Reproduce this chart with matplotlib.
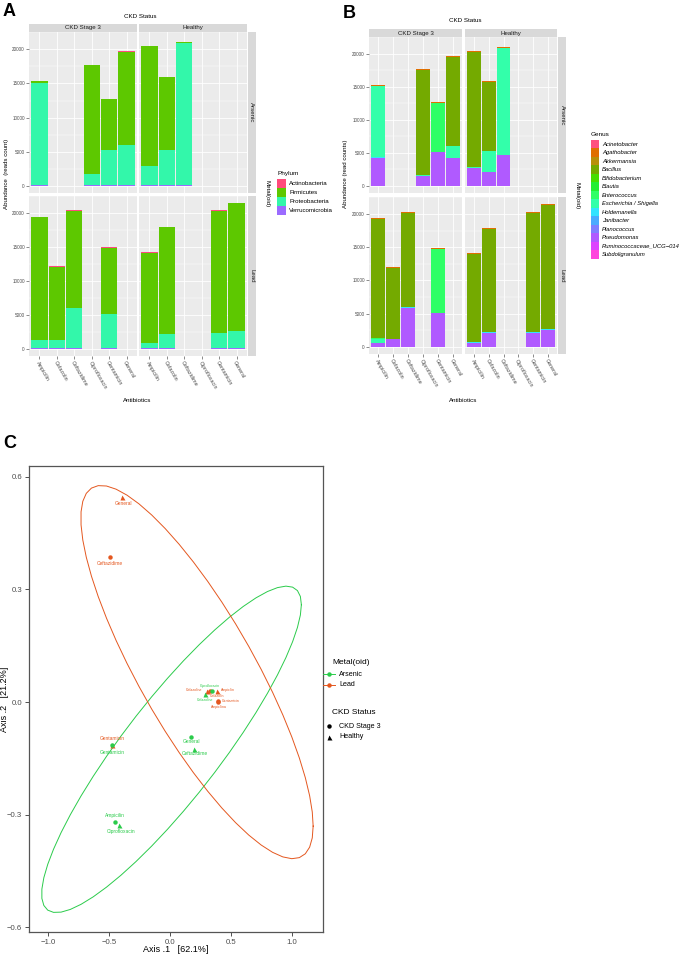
import numpy as np
import matplotlib
matplotlib.use('Agg')
import matplotlib.pyplot as plt
from matplotlib.patches import Rectangle
from matplotlib.lines import Line2D

plt.rcParams['font.family'] = ['Liberation Sans', 'DejaVu Sans']

W, H = 685, 958

# ---------------- data ----------------
metals = ['Arsenic', 'Lead']
statuses = ['CKD Stage 3', 'Healthy']
antibiotics = ['Ampicilin', 'Cefazolin', 'Ceftazidime', 'Ciprofloxacin', 'Gentamicin', 'General']

sample_metal = ['Arsenic'] * 7 + ['Lead'] * 8
sample_status = ['CKD Stage 3'] * 4 + ['Healthy'] * 3 + ['CKD Stage 3'] * 4 + ['Healthy'] * 4
sample_antibiotic = ['Ampicilin', 'Ciprofloxacin', 'Gentamicin', 'General',
                     'Ampicilin', 'Cefazolin', 'Ceftazidime',
                     'Ampicilin', 'Cefazolin', 'Ceftazidime', 'Gentamicin',
                     'Ampicilin', 'Cefazolin', 'Gentamicin', 'General']

# Panel A: phylum abundances (reads count), one value per sample above
phyla = ['Actinobacteria', 'Firmicutes', 'Proteobacteria', 'Verrucomicrobia']
phylum_colors = ['#FF4A7C', '#5DC800', '#33F7AA', '#9B6BFF']
actinobacteria = [30, 30, 30, 30, 30, 30, 30, 30, 30, 30, 30, 30, 30, 30, 30]
firmicutes = [220, 15980, 7440, 13740, 17550, 10700, 160, 18110, 10820, 14340, 9710, 13360, 15710, 18060, 18800]
proteobacteria = [15000, 1600, 5150, 5850, 2820, 5120, 20800, 1200, 1200, 5900, 5100, 720, 2130, 2180, 2570]
verrucomicrobia = [80, 80, 80, 80, 80, 80, 80, 80, 80, 80, 80, 80, 80, 80, 80]

# Panel B: genus abundances (read counts)
genera = ['Acinetobacter', 'Agathobacter', 'Akkermansia', 'Bacillus', 'Bifidobacterium', 'Blautia',
          'Enterococcus', 'Escherichia / Shigella', 'Holdemanella', 'Janibacter', 'Planococcus',
          'Pseudomonas', 'Ruminococcaceae_UCG\u2212014', 'Subdoligranulum']
genus_colors = ['#FF4F7F', '#E06F00', '#B8900A', '#74AA00', '#46DD00', '#22EE33', '#2EFF66',
                '#33FFAA', '#33E3FF', '#4AABFF', '#7F7FFF', '#B05AFF', '#DD44FF', '#FF44DD']
acinetobacter = [0, 0, 0, 0, 0, 0, 0, 0, 0, 0, 0, 0, 0, 0, 0]
agathobacter = [150, 180, 180, 150, 150, 150, 200, 150, 200, 200, 200, 200, 190, 150, 200]
akkermansia = [0, 0, 0, 0, 0, 0, 0, 0, 0, 0, 0, 0, 0, 0, 0]
bacillus = [0, 15955, 0, 13520, 17420, 10565, 0, 17940, 10630, 14120, 0, 13320, 15580, 17870, 18640]
bifidobacterium = [0, 0, 0, 0, 0, 0, 0, 0, 0, 0, 0, 0, 0, 0, 0]
blautia = [0, 0, 0, 0, 0, 0, 0, 0, 0, 0, 0, 0, 0, 0, 0]
enterococcus = [0, 0, 7390, 0, 0, 0, 0, 100, 0, 0, 9670, 0, 0, 0, 0]
escherichia_shigella = [10800, 100, 0, 1750, 150, 3100, 16115, 600, 100, 0, 0, 0, 0, 0, 0]
holdemanella = [100, 0, 0, 0, 0, 0, 0, 0, 0, 100, 0, 100, 100, 100, 80]
janibacter = [0, 0, 0, 0, 0, 0, 0, 0, 0, 0, 0, 0, 0, 0, 0]
planococcus = [0, 0, 0, 0, 0, 0, 0, 60, 0, 0, 0, 0, 0, 0, 0]
pseudomonas = [4250, 1480, 5150, 4200, 2650, 2100, 4700, 520, 1100, 5850, 5000, 550, 2050, 2100, 2550]
ruminococcaceae = [0, 0, 0, 0, 0, 0, 0, 0, 0, 0, 0, 0, 0, 0, 0]
subdoligranulum = [30, 30, 30, 30, 30, 30, 30, 30, 30, 30, 30, 30, 30, 30, 30]

# Panel C: PCoA ordination
pc_metal = ['Lead'] * 8 + ['Arsenic'] * 7
pc_status = ['Healthy', 'CKD Stage 3', 'Healthy', 'CKD Stage 3', 'Healthy', 'CKD Stage 3', 'CKD Stage 3', 'Healthy',
             'CKD Stage 3', 'CKD Stage 3', 'Healthy', 'CKD Stage 3', 'Healthy', 'Healthy', 'CKD Stage 3']
pc_label = ['General', 'Ceftazidime', 'Cefazoline', 'Cefazolin', 'Ampicilin', 'Gentamicin', 'Ampicilina', 'Gentamicin',
            'Gentamicin', 'General', 'Ceftazidime', 'Ampicilin', 'Ciprofloxacin', 'Cefazoline', 'Ciprofloxacin']
axis1 = [-0.393, -0.492, 0.303, 0.328, 0.385, 0.393, 0.393, -0.475,
         -0.475, 0.172, 0.197, -0.451, -0.418, 0.287, 0.344]
axis2 = [0.547, 0.387, 0.029, 0.029, 0.029, 0.003, 0.000, -0.115,
         -0.115, -0.093, -0.125, -0.320, -0.328, 0.021, 0.029]

# ---------------- helpers ----------------
fig = plt.figure(figsize=(W / 100, H / 100), dpi=100)


def add_ax(x0, y0, x1, y1):
    return fig.add_axes([x0 / W, 1 - y1 / H, (x1 - x0) / W, (y1 - y0) / H])


def fx(x):
    return x / W


def fy(y):
    return 1 - y / H


def bar_facets(cols, rows, strip_top, strip_right, series, colors):
    totals = np.sum(np.array(series, float), axis=0)
    ymax = totals.max()
    for ri, metal in enumerate(metals):
        for ci, status in enumerate(statuses):
            x0, x1 = cols[ci]
            y0, y1 = rows[ri]
            ax = add_ax(x0, y0, x1, y1)
            ax.set_facecolor('#EBEBEB')
            idx = [k for k in range(len(sample_metal)) if sample_metal[k] == metal and sample_status[k] == status]
            pos = np.array([antibiotics.index(sample_antibiotic[k]) for k in idx])
            bottom = np.zeros(len(idx))
            for vals, col in reversed(list(zip(series, colors))):
                v = np.array([vals[k] for k in idx], float)
                ax.bar(pos, v, bottom=bottom, width=0.93, color=col, linewidth=0, zorder=3)
                bottom += v
            ax.set_xlim(-0.6, 5.6)
            ax.set_ylim(-0.05 * ymax, 1.05 * ymax)
            ax.set_xticks(range(len(antibiotics)))
            ax.set_yticks([0, 5000, 10000, 15000, 20000])
            ax.set_yticks([2500, 7500, 12500, 17500, 22500], minor=True)
            ax.grid(which='major', color='white', lw=0.6, zorder=0)
            ax.grid(which='minor', axis='y', color='white', lw=0.3, zorder=0)
            ax.set_axisbelow(True)
            for s in ax.spines.values():
                s.set_visible(False)
            ax.tick_params(which='major', length=2, width=0.4, color='#333333', pad=1,
                           labelsize=3.3, labelcolor='#4D4D4D')
            ax.tick_params(which='minor', length=0)
            if ci == 0:
                ax.set_yticklabels(['0', '5000', '10000', '15000', '20000'])
            else:
                ax.set_yticklabels([])
                ax.tick_params(axis='y', length=0)
            if ri == len(metals) - 1:
                ax.set_xticklabels(antibiotics, rotation=-60, ha='left', va='top',
                                   rotation_mode='anchor', fontsize=3.9, color='#4D4D4D')
            else:
                ax.set_xticklabels([])
                ax.tick_params(axis='x', length=0)
    for ci, status in enumerate(statuses):
        sa = add_ax(cols[ci][0], strip_top[0], cols[ci][1], strip_top[1])
        sa.set_facecolor('#D9D9D9')
        sa.set_xticks([]); sa.set_yticks([])
        for s in sa.spines.values():
            s.set_visible(False)
        sa.text(0.5, 0.5, status, ha='center', va='center', fontsize=4.4, color='#1A1A1A',
                transform=sa.transAxes)
    for ri, metal in enumerate(metals):
        sa = add_ax(strip_right[0], rows[ri][0], strip_right[1], rows[ri][1])
        sa.set_facecolor('#D9D9D9')
        sa.set_xticks([]); sa.set_yticks([])
        for s in sa.spines.values():
            s.set_visible(False)
        sa.text(0.5, 0.5, metal, ha='center', va='center', fontsize=4.4, color='#1A1A1A',
                rotation=-90, transform=sa.transAxes)


# ---------------- Panel A ----------------
phylum_series = [actinobacteria, firmicutes, proteobacteria, verrucomicrobia]
bar_facets(cols=[(29, 137), (139, 247)], rows=[(32, 193), (195.5, 356)],
           strip_top=(24, 32), strip_right=(247.5, 256), series=phylum_series, colors=phylum_colors)
fig.text(fx(140), fy(16), 'CKD Status', ha='center', va='center', fontsize=4.5)
fig.text(fx(137), fy(401), 'Antibiotics', ha='center', va='center', fontsize=4.5)
fig.text(fx(7), fy(174), 'Abundance  (reads count)', ha='center', va='center', fontsize=4.4, rotation=90)
fig.text(fx(267), fy(194), 'Metal(oid)', ha='center', va='center', fontsize=4.4, rotation=-90)
fig.text(fx(3), fy(11), 'A', ha='left', va='center', fontsize=13, fontweight='bold')
# legend A
fig.text(fx(277), fy(174), 'Phylum', ha='left', va='center', fontsize=4.6)
for i, (name, col) in enumerate(zip(phyla, phylum_colors)):
    ytop = 179 + i * 9
    fig.patches.append(Rectangle((fx(277), fy(ytop + 9)), 9 / W, 9 / H, transform=fig.transFigure,
                                 facecolor=col, edgecolor='none'))
    fig.text(fx(289), fy(ytop + 4.5), name, ha='left', va='center', fontsize=4.4)

# ---------------- Panel B ----------------
genus_series = [acinetobacter, agathobacter, akkermansia, bacillus, bifidobacterium, blautia, enterococcus,
                escherichia_shigella, holdemanella, janibacter, planococcus, pseudomonas, ruminococcaceae,
                subdoligranulum]
bar_facets(cols=[(369, 462), (465, 557)], rows=[(37, 193), (197, 354)],
           strip_top=(29, 37), strip_right=(558, 566), series=genus_series, colors=genus_colors)
fig.text(fx(465), fy(21), 'CKD Status', ha='center', va='center', fontsize=4.5)
fig.text(fx(463), fy(401), 'Antibiotics', ha='center', va='center', fontsize=4.5)
fig.text(fx(345), fy(174), 'Abundance (read counts)', ha='center', va='center', fontsize=4.4, rotation=90)
fig.text(fx(577), fy(196), 'Metal(oid)', ha='center', va='center', fontsize=4.4, rotation=-90)
fig.text(fx(343), fy(13), 'B', ha='left', va='center', fontsize=13, fontweight='bold')
fig.text(fx(591), fy(134.5), 'Genus', ha='left', va='center', fontsize=4.6)
for i, (name, col) in enumerate(zip(genera, genus_colors)):
    ytop = 140 + i * 8.5
    fig.patches.append(Rectangle((fx(591), fy(ytop + 8.5)), 8 / W, 8.5 / H, transform=fig.transFigure,
                                 facecolor=col, edgecolor='none'))
    fig.text(fx(602), fy(ytop + 4.25), name, ha='left', va='center', fontsize=4.2, style='italic')

# ---------------- Panel C ----------------
metal_colors = {'Arsenic': '#2BCB4B', 'Lead': '#E4571F'}
status_markers = {'CKD Stage 3': 'o', 'Healthy': '^'}


def cov_trob(X, nu=5, maxit=25, tol=0.01):
    n, p = X.shape
    loc = X.mean(axis=0)
    w = np.ones(n)
    Xc = X - loc
    for _ in range(maxit):
        w0 = w
        Xc = X - loc
        _, S, Vt = np.linalg.svd(np.sqrt(w / w.sum())[:, None] * Xc, full_matrices=False)
        wX = Xc @ Vt.T @ np.diag(1 / S)
        Q = (wX ** 2).sum(axis=1)
        w = (nu + p) / (nu + Q)
        loc = (w[:, None] * X).sum(axis=0) / w.sum()
        if np.all(np.abs(w - w0) < tol):
            break
    cov = (np.sqrt(w)[:, None] * Xc).T @ (np.sqrt(w)[:, None] * Xc) / n
    return loc, cov


def ellipse_path(X, level=0.95, segments=51):
    n = X.shape[0]
    center, shape = cov_trob(X)
    dfn, dfd = 2, n - 1
    qf = dfd / 2.0 * ((1 - level) ** (-2.0 / dfd) - 1)
    radius = np.sqrt(dfn * qf)
    ang = np.linspace(0, 2 * np.pi, segments + 1)
    unit = np.column_stack([np.cos(ang), np.sin(ang)])
    R = np.linalg.cholesky(shape).T
    return center + radius * unit @ R


axc = add_ax(29, 466, 323, 932)
a1 = np.array(axis1)
a2 = np.array(axis2)
for metal in ['Arsenic', 'Lead']:
    m = np.array([pm == metal for pm in pc_metal])
    E = ellipse_path(np.column_stack([a1[m], a2[m]]))
    axc.plot(E[:, 0], E[:, 1], color=metal_colors[metal], lw=0.7, zorder=2)

for k in range(len(axis1)):
    mk = status_markers[pc_status[k]]
    axc.plot(axis1[k], axis2[k], marker=mk, ms=3.2 if mk == 'o' else 3.6, color=metal_colors[pc_metal[k]],
             mec='none', ls='none', zorder=3)

# label offsets (pixels, screen) from each point
label_dx = [1, 0, -13, 7, 11, 13, 1, 0, 0, 0, 1, 0, 2, 0, -2]
label_dy = [7, 7, -1, 5, -1, 0, 5, -7, 7, 5, 5, -7, 6, 6, -5]
label_size = [3.5, 3.5, 2.5, 2.5, 2.5, 2.5, 2.5, 3.5, 3.5, 3.5, 3.5, 3.5, 3.5, 2.5, 2.5]
for k in range(len(axis1)):
    axc.annotate(pc_label[k], (axis1[k], axis2[k]), xytext=(label_dx[k], -label_dy[k]),
                 textcoords='offset pixels', ha='center', va='center', fontsize=label_size[k],
                 color=metal_colors[pc_metal[k]], zorder=4)

axc.set_xlim(-1.156, 1.254)
axc.set_ylim(-0.613, 0.629)
axc.set_xticks([-1.0, -0.5, 0.0, 0.5, 1.0])
axc.set_yticks([-0.6, -0.3, 0.0, 0.3, 0.6])
axc.set_xticklabels(['\u22121.0', '\u22120.5', '0.0', '0.5', '1.0'])
axc.set_yticklabels(['\u22120.6', '\u22120.3', '0.0', '0.3', '0.6'])
axc.tick_params(length=3, width=0.6, color='#333333', labelsize=5.6, labelcolor='#4D4D4D', pad=2)
for s in axc.spines.values():
    s.set_color('#555555')
    s.set_linewidth(0.9)
fig.text(fx(176), fy(949), 'Axis .1   [62.1%]', ha='center', va='center', fontsize=6.5)
fig.text(fx(5), fy(699), 'Axis .2   [21.2%]', ha='center', va='center', fontsize=6.5, rotation=90)
fig.text(fx(3), fy(443), 'C', ha='left', va='center', fontsize=13, fontweight='bold')

# legend C
fig.text(fx(332), fy(662), 'Metal(oid)', ha='left', va='center', fontsize=6)
for i, metal in enumerate(['Arsenic', 'Lead']):
    yy = 674 + i * 11
    fig.lines.append(Line2D([fx(323), fx(335)], [fy(yy), fy(yy)], transform=fig.transFigure,
                            color=metal_colors[metal], lw=0.7))
    fig.lines.append(Line2D([fx(329)], [fy(yy)], transform=fig.transFigure, marker='o', ms=3.2,
                            color=metal_colors[metal], mec='none', ls='none'))
    fig.text(fx(339), fy(yy), metal, ha='left', va='center', fontsize=5.1)
fig.text(fx(332), fy(713), 'CKD Status', ha='left', va='center', fontsize=6)
for i, status in enumerate(statuses):
    yy = 726 + i * 11
    mk = status_markers[status]
    fig.lines.append(Line2D([fx(329)], [fy(yy)], transform=fig.transFigure, marker=mk,
                            ms=3.2 if mk == 'o' else 3.6, color='black', mec='none', ls='none'))
    fig.text(fx(339), fy(yy), status, ha='left', va='center', fontsize=5.1)

fig.savefig('out.png', dpi=100)
